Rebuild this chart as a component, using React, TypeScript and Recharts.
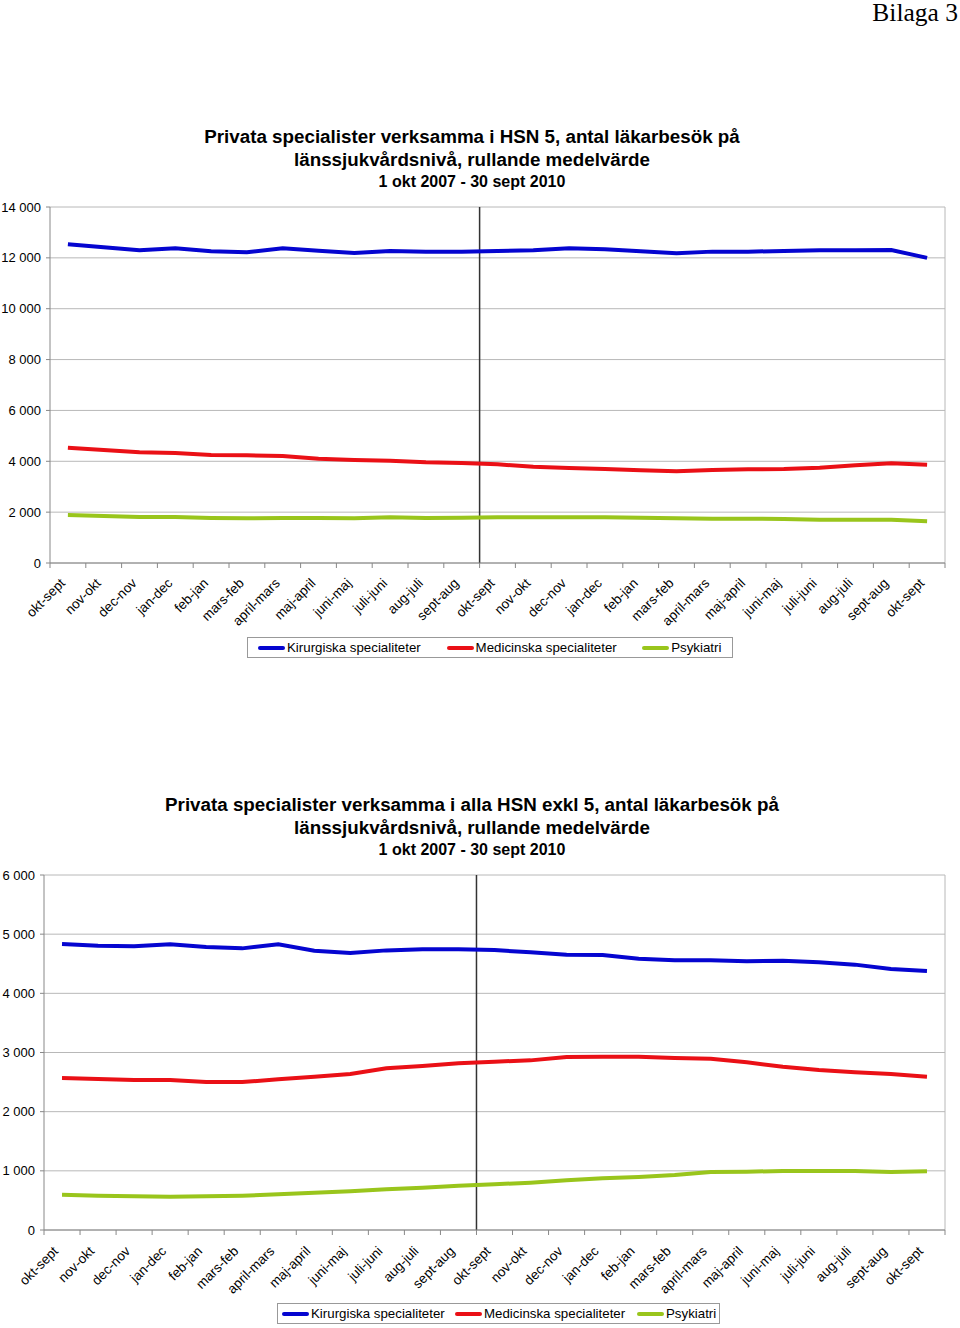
import { CartesianGrid, Legend, Line, LineChart, ReferenceLine, XAxis, YAxis } from "recharts";

const PERIODS = [
  "okt-sept", "nov-okt", "dec-nov", "jan-dec", "feb-jan", "mars-feb", "april-mars", "maj-april",
  "juni-maj", "juli-juni", "aug-juli", "sept-aug", "okt-sept", "nov-okt", "dec-nov", "jan-dec",
  "feb-jan", "mars-feb", "april-mars", "maj-april", "juni-maj", "juli-juni", "aug-juli", "sept-aug",
  "okt-sept",
];

// HSN 5
const HSN5_KIR = [
  12535, 12415, 12300, 12377, 12260, 12220, 12377, 12283, 12193, 12270, 12244, 12244, 12270,
  12300, 12380, 12340, 12260, 12180, 12245, 12245, 12270, 12300, 12300, 12310, 12000,
];
const HSN5_MED = [
  4535, 4444, 4353, 4326, 4248, 4235, 4208, 4103, 4051, 4025, 3960, 3933, 3880,
  3788, 3736, 3697, 3645, 3605, 3657, 3684, 3697, 3750, 3840, 3920, 3867,
];
const HSN5_PSY = [
  1888, 1849, 1809, 1809, 1770, 1757, 1770, 1770, 1757, 1796, 1770, 1783, 1796,
  1796, 1796, 1796, 1783, 1757, 1744, 1744, 1731, 1705, 1705, 1705, 1640,
];

// alla HSN exkl 5
const OVR_KIR = [
  4833, 4805, 4794, 4828, 4783, 4760, 4828, 4721, 4681, 4726, 4743, 4743, 4732,
  4693, 4653, 4648, 4586, 4558, 4558, 4541, 4550, 4524, 4485, 4411, 4377,
];
const OVR_MED = [
  2569, 2552, 2535, 2535, 2501, 2501, 2546, 2591, 2636, 2732, 2772, 2817, 2845,
  2867, 2924, 2930, 2930, 2907, 2896, 2834, 2760, 2704, 2665, 2636, 2591,
];
const OVR_PSY = [
  597, 580, 569, 563, 569, 580, 603, 631, 653, 687, 715, 749, 772,
  800, 839, 873, 896, 929, 980, 986, 997, 997, 997, 980, 991,
];

const TICKS_1 = [0, 2000, 4000, 6000, 8000, 10000, 12000, 14000];
const TICKS_2 = [0, 1000, 2000, 3000, 4000, 5000, 6000];

const SERIES = [
  { key: "kir", label: "Kirurgiska specialiteter", color: "#0505d0" },
  { key: "med", label: "Medicinska specialiteter", color: "#ea1016" },
  { key: "psy", label: "Psykiatri", color: "#99c51c" },
];

const FONT = '"Liberation Sans", Arial, sans-serif';
const fmt = (v: number) => String(v).replace(/\B(?=(\d{3})+(?!\d))/g, " ");

const build = (kir: number[], med: number[], psy: number[]) =>
  PERIODS.map((p, i) => ({ idx: i, period: p, kir: kir[i], med: med[i], psy: psy[i] }));

function PeriodTick(props: any) {
  const { x, y, payload, index, bw, shift } = props;
  const last = index === PERIODS.length - 1;
  const ax = x + 3 - shift;
  const ay = y + 8 + shift;
  return (
    <g>
      <line x1={x - bw / 2} x2={x - bw / 2} y1={y - 8} y2={y - 3} stroke="#888" />
      {last && <line x1={x + bw / 2} x2={x + bw / 2} y1={y - 8} y2={y - 3} stroke="#888" />}
      <text
        x={ax}
        y={ay}
        transform={`rotate(-45 ${ax} ${ay})`}
        textAnchor="end"
        fontSize={13.5}
        fontFamily={FONT}
        fill="#000"
      >
        {PERIODS[payload.value]}
      </text>
    </g>
  );
}

function LegendBox({ width, pad }: { width: number[]; pad: number }) {
  return (
    <div
      style={{
        display: "flex",
        alignItems: "center",
        border: "1px solid #999",
        background: "#fff",
        height: 21,
        fontFamily: FONT,
        fontSize: 13.3,
        paddingLeft: pad,
        boxSizing: "border-box",
      }}
    >
      {SERIES.map((s, i) => (
        <div key={s.key} style={{ display: "flex", alignItems: "center", width: width[i] }}>
          <span style={{ display: "inline-block", width: 27, height: 4, background: s.color, borderRadius: 2 }} />
          <span style={{ marginLeft: 2 }}>{s.label}</span>
        </div>
      ))}
    </div>
  );
}

function Panel(props: {
  top: number;
  height: number;
  data: any[];
  ticks: number[];
  max: number;
  plotLeft: number;
  marginTop: number;
  marginBottom: number;
  legend: { left: number; top: number; width: number; pad: number; cols: number[] };
  title: string[];
  titleTop: number;
  shift: number;
}) {
  const { top, height, data, ticks, max, plotLeft, marginTop, marginBottom, legend, title, titleTop, shift } = props;
  const bw = (945 - plotLeft) / PERIODS.length;
  return (
    <div style={{ position: "absolute", top, left: 0, width: 960, height }}>
      <div
        style={{
          position: "absolute",
          top: titleTop,
          left: 0,
          width: 944,
          textAlign: "center",
          fontFamily: FONT,
          fontWeight: "bold",
          color: "#000",
        }}
      >
        <div style={{ fontSize: 18.8, lineHeight: "23px" }}>{title[0]}</div>
        <div style={{ fontSize: 18.8, lineHeight: "23px" }}>{title[1]}</div>
        <div style={{ fontSize: 16, lineHeight: "21px" }}>{title[2]}</div>
      </div>
      <LineChart
        width={960}
        height={height}
        data={data}
        margin={{ top: marginTop, right: 15, bottom: marginBottom, left: 0 }}
      >
        <CartesianGrid vertical={false} stroke="#b8b8b8" />
        <XAxis
          dataKey="idx"
          type="category"
          scale="band"
          interval={0}
          height={60}
          stroke="#888"
          tickLine={false}
          tick={<PeriodTick bw={bw} shift={shift} />}
        />
        <YAxis
          width={plotLeft}
          domain={[0, max]}
          ticks={ticks}
          interval={0}
          tickFormatter={fmt}
          stroke="#888"
          tickSize={4}
          tickMargin={5}
          tick={{ fontSize: 13, fontFamily: FONT, fill: "#000" }}
        />
        <ReferenceLine x={PERIODS.length - 1} position="end" stroke="#b8b8b8" />
        <ReferenceLine x={12} position="start" stroke="#333" strokeWidth={1.5} />
        {SERIES.map((s) => (
          <Line
            key={s.key}
            dataKey={s.key}
            name={s.label}
            stroke={s.color}
            strokeWidth={4}
            dot={false}
            type="linear"
            isAnimationActive={false}
          />
        ))}
        <Legend
          layout="vertical"
          align="center"
          verticalAlign="middle"
          wrapperStyle={{ left: legend.left, top: legend.top, width: legend.width }}
          content={() => <LegendBox width={legend.cols} pad={legend.pad} />}
        />
      </LineChart>
    </div>
  );
}

export default function App() {
  return (
    <div style={{ position: "absolute", top: 0, left: 0, width: 960, height: 1328, background: "#fff" }}>
      <div
        style={{
          position: "absolute",
          top: -2,
          right: 2,
          fontFamily: '"Liberation Serif", "Times New Roman", serif',
          fontSize: 25.5,
        }}
      >
        Bilaga 3
      </div>
      <Panel
        top={0}
        height={670}
        data={build(HSN5_KIR, HSN5_MED, HSN5_PSY)}
        ticks={TICKS_1}
        max={14000}
        plotLeft={50}
        marginTop={207}
        marginBottom={47}
        legend={{ left: 247, top: 637, width: 486, pad: 10, cols: [189, 196, 90] }}
        title={[
          "Privata specialister verksamma i HSN 5, antal läkarbesök på",
          "länssjukvårdsnivå, rullande medelvärde",
          "1 okt 2007 - 30 sept 2010",
        ]}
        titleTop={125}
        shift={5}
      />
      <Panel
        top={690}
        height={638}
        data={build(OVR_KIR, OVR_MED, OVR_PSY)}
        ticks={TICKS_2}
        max={6000}
        plotLeft={44}
        marginTop={185}
        marginBottom={38}
        legend={{ left: 277, top: 613, width: 443, pad: 4, cols: [173, 182, 80] }}
        title={[
          "Privata specialister verksamma i alla HSN exkl 5, antal läkarbesök på",
          "länssjukvårdsnivå, rullande medelvärde",
          "1 okt 2007 - 30 sept 2010",
        ]}
        titleTop={103}
        shift={6}
      />
    </div>
  );
}
